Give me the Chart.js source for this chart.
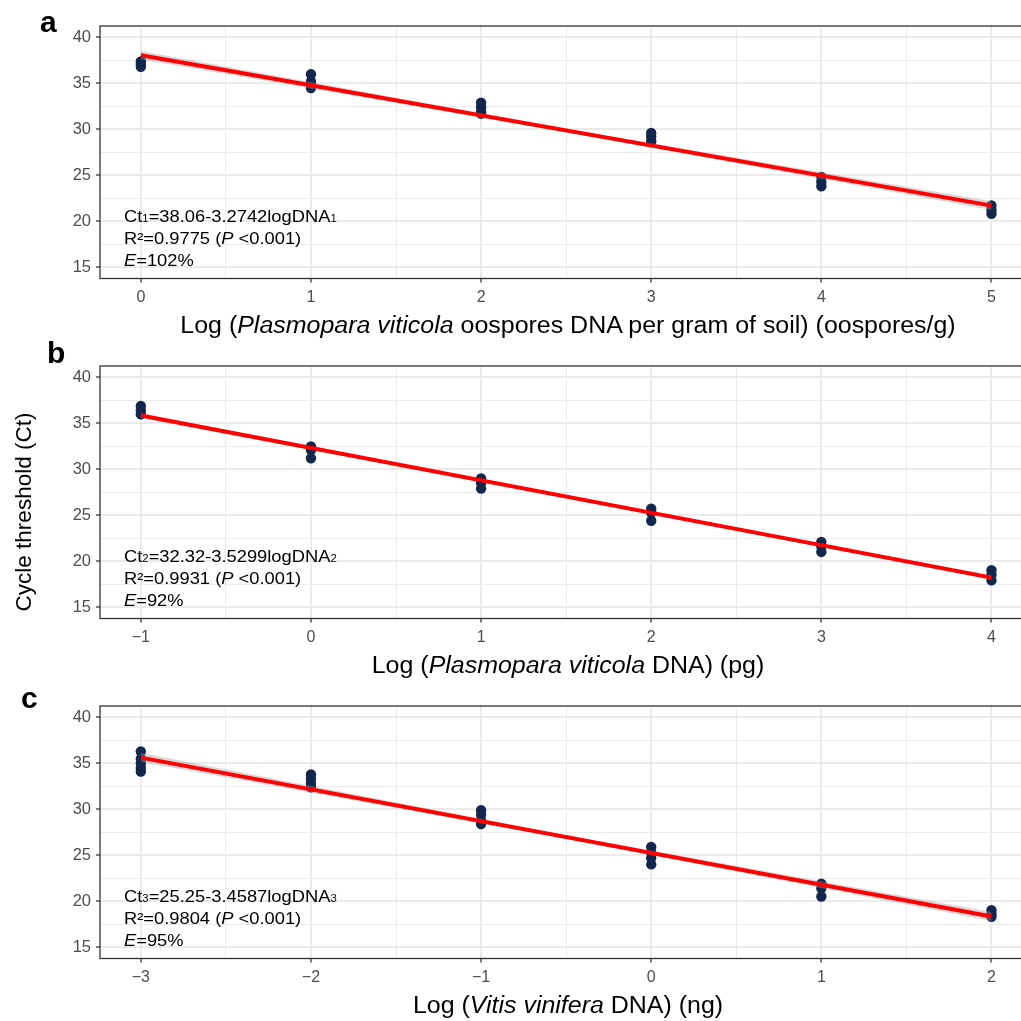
<!DOCTYPE html>
<html lang="en">
<head>
  <meta charset="UTF-8" />
  <title>qPCR standard curves</title>
  <style>
    body {
      margin: 0;
      background: #fff;
      font-family: "Liberation Sans", Arial, sans-serif;
    }
    #wrap {
      position: relative;
      width: 1021px;
      height: 1021px;
      overflow: hidden;
      background: #fff;
    }
    canvas {
      position: absolute;
      left: 0;
    }
    .txt {
      position: absolute;
      white-space: nowrap;
      line-height: 1;
      color: #000;
    }
    .note { font-size: 16.5px; left: 124px; transform: scaleX(1.11); transform-origin: left center; }
    .xtitle { font-size: 23px; left: 568px; transform: translateX(-50%) scaleX(1.085); }
    .letter { font-size: 30px; font-weight: bold; }
    .sub { font-size: 0.62em; }
  </style>
</head>
<body>
<div id="wrap">
  <canvas id="chartA" width="1040" height="340" style="top:0px"></canvas>
  <canvas id="chartB" width="1040" height="340" style="top:340px"></canvas>
  <canvas id="chartC" width="1040" height="340" style="top:680px"></canvas>

  <div class="txt letter" style="left:40px; top:6.6px">a</div>
  <div class="txt letter" style="left:47px; top:337.6px">b</div>
  <div class="txt letter" style="left:21px; top:682.6px">c</div>

  <div class="txt note" style="top:207.7px">Ct<span class="sub">1</span>=38.06-3.2742logDNA<span class="sub">1</span></div>
  <div class="txt note" style="top:229.7px">R²=0.9775 (<i>P</i> &lt;0.001)</div>
  <div class="txt note" style="top:251.7px"><i>E</i>=102%</div>

  <div class="txt note" style="top:547.7px">Ct<span class="sub">2</span>=32.32-3.5299logDNA<span class="sub">2</span></div>
  <div class="txt note" style="top:569.7px">R²=0.9931 (<i>P</i> &lt;0.001)</div>
  <div class="txt note" style="top:591.7px"><i>E</i>=92%</div>

  <div class="txt note" style="top:887.7px">Ct<span class="sub">3</span>=25.25-3.4587logDNA<span class="sub">3</span></div>
  <div class="txt note" style="top:909.7px">R²=0.9804 (<i>P</i> &lt;0.001)</div>
  <div class="txt note" style="top:931.7px"><i>E</i>=95%</div>

  <div class="txt xtitle" style="top:313.8px">Log (<i>Plasmopara viticola</i> oospores DNA per gram of soil) (oospores/g)</div>
  <div class="txt xtitle" style="top:653.5px">Log (<i>Plasmopara viticola</i> DNA) (pg)</div>
  <div class="txt xtitle" style="top:993.5px">Log (<i>Vitis vinifera</i> DNA) (ng)</div>

  <div class="txt" style="font-size:22.5px; left:24px; top:512px; transform: translate(-50%, -50%) rotate(-90deg);">Cycle threshold (Ct)</div>
</div>

<script src="https://cdn.jsdelivr.net/npm/chart.js"></script>
<script>
  // panel a: oospores in soil
  const xA = [0, 1, 2, 3, 4, 5];
  const ctA = [
    [37.4, 37.1, 36.8],
    [36.0, 35.2, 34.8, 34.5],
    [32.9, 32.4, 31.9, 31.7],
    [29.6, 29.2, 28.7],
    [24.8, 24.3, 23.8],
    [21.7, 21.2, 20.8]
  ];
  const fitXA = [0, 5];
  const fitYA = [38.06, 21.69];
  const bandXA = [0, 2.5, 5];
  const bandUpA = [38.52, 30.07, 22.17];
  const bandLoA = [37.60, 29.68, 21.21];
  const xTicksA = [0, 0.5, 1, 1.5, 2, 2.5, 3, 3.5, 4, 4.5, 5];

  // panel b: P. viticola DNA
  const xB = [-1, 0, 1, 2, 3, 4];
  const ctB = [
    [36.9, 36.4, 36.0],
    [32.5, 32.1, 31.2],
    [29.0, 28.5, 27.9],
    [25.7, 25.3, 24.4],
    [22.1, 21.6, 21.0],
    [19.0, 18.5, 17.9]
  ];
  const fitXB = [-1, 4];
  const fitYB = [35.85, 18.20];
  const bandXB = [-1, 1.5, 4];
  const bandUpB = [36.10, 27.13, 18.45];
  const bandLoB = [35.60, 26.93, 17.95];
  const xTicksB = [-1, -0.5, 0, 0.5, 1, 1.5, 2, 2.5, 3, 3.5, 4];

  // panel c: V. vinifera DNA
  const xC = [-3, -2, -1, 0, 1, 2];
  const ctC = [
    [36.3, 35.5, 35.0, 34.5, 34.1],
    [33.8, 33.3, 32.8, 32.4],
    [29.9, 29.4, 28.8, 28.4],
    [25.9, 25.3, 24.7, 24.0],
    [21.9, 21.4, 20.5],
    [19.0, 18.6, 18.3]
  ];
  const fitXC = [-3, 2];
  const fitYC = [35.63, 18.33];
  const bandXC = [-3, -0.5, 2];
  const bandUpC = [36.12, 27.17, 18.82];
  const bandLoC = [35.14, 26.79, 17.84];
  const xTicksC = [-3, -2.5, -2, -1.5, -1, -0.5, 0, 0.5, 1, 1.5, 2];

  const yTicks = [15, 17.5, 20, 22.5, 25, 27.5, 30, 32.5, 35, 37.5, 40];

  const FONT = '"Liberation Sans", Arial, sans-serif';
  const CANVAS_H = 340;
  const PLOT_TOP = 26;
  const PLOT_BOTTOM = 278.5;
  const PLOT_LEFT = 100;

  const isMajorX = v => Number.isInteger(v);
  const isMajorY = v => v % 5 === 0;
  const fmt = v => (v < 0 ? '\u2212' + Math.abs(v) : String(v));

  // ggplot-like panel border
  const panelBorder = {
    id: 'panelBorder',
    afterDraw(chart) {
      const a = chart.chartArea;
      const ctx = chart.ctx;
      ctx.save();
      ctx.strokeStyle = '#333333';
      ctx.lineWidth = 1.3;
      ctx.strokeRect(a.left, a.top, a.right - a.left, a.bottom - a.top);
      ctx.restore();
    }
  };

  function toPoints(xs, ys) {
    return xs.map((x, i) => ({ x: x, y: ys[i] }));
  }

  function makePanel(id, xs, cts, fitX, fitY, bandX, bandUp, bandLo, xTicks, xMin, xMax) {
    const pts = [];
    xs.forEach((x, i) => cts[i].forEach(y => pts.push({ x: x, y: y })));

    new Chart(document.getElementById(id), {
      type: 'scatter',
      data: {
        datasets: [
          {
            data: toPoints(fitX, fitY),
            showLine: true,
            borderColor: '#ff0000',
            borderWidth: 4,
            pointRadius: 0,
            order: 0
          },
          {
            data: toPoints(bandX, bandUp),
            showLine: true,
            borderWidth: 0,
            pointRadius: 0,
            fill: '+1',
            backgroundColor: 'rgba(153,153,153,0.4)',
            order: 1
          },
          {
            data: toPoints(bandX, bandLo),
            showLine: true,
            borderWidth: 0,
            pointRadius: 0,
            fill: false,
            order: 1
          },
          {
            data: pts,
            pointRadius: 5.2,
            pointBackgroundColor: '#13264b',
            pointBorderWidth: 0,
            order: 2
          }
        ]
      },
      options: {
        responsive: false,
        animation: false,
        devicePixelRatio: 1,
        layout: { padding: { top: PLOT_TOP, right: 6, bottom: 0, left: 0 } },
        plugins: { legend: { display: false }, tooltip: { enabled: false } },
        scales: {
          x: {
            type: 'linear',
            min: xMin,
            max: xMax,
            afterBuildTicks: s => { s.ticks = xTicks.map(v => ({ value: v })); },
            afterFit: s => { s.height = CANVAS_H - PLOT_BOTTOM; },
            border: { display: false },
            grid: {
              color: '#ebebeb',
              lineWidth: c => (isMajorX(c.tick.value) ? 2 : 1),
              tickColor: c => (isMajorX(c.tick.value) ? '#333333' : 'rgba(0,0,0,0)'),
              tickLength: 4,
              tickWidth: 1.3
            },
            ticks: {
              autoSkip: false,
              maxRotation: 0,
              padding: 5,
              color: '#4d4d4d',
              font: { family: FONT, size: 16 },
              callback: v => (isMajorX(v) ? fmt(v) : '')
            }
          },
          y: {
            min: 13.75,
            max: 41.25,
            afterBuildTicks: s => { s.ticks = yTicks.map(v => ({ value: v })); },
            afterFit: s => { s.width = PLOT_LEFT; },
            border: { display: false },
            grid: {
              color: '#ebebeb',
              lineWidth: c => (isMajorY(c.tick.value) ? 2 : 1),
              tickColor: c => (isMajorY(c.tick.value) ? '#333333' : 'rgba(0,0,0,0)'),
              tickLength: 4,
              tickWidth: 1.3
            },
            ticks: {
              autoSkip: false,
              padding: 5,
              color: '#4d4d4d',
              font: { family: FONT, size: 16.5 },
              callback: v => (isMajorY(v) ? String(v) : '')
            }
          }
        }
      },
      plugins: [panelBorder]
    });
  }

  makePanel('chartA', xA, ctA, fitXA, fitYA, bandXA, bandUpA, bandLoA, xTicksA, -0.24, 5.25);
  makePanel('chartB', xB, ctB, fitXB, fitYB, bandXB, bandUpB, bandLoB, xTicksB, -1.24, 4.25);
  makePanel('chartC', xC, ctC, fitXC, fitYC, bandXC, bandUpC, bandLoC, xTicksC, -3.24, 2.25);
</script>
</body>
</html>
